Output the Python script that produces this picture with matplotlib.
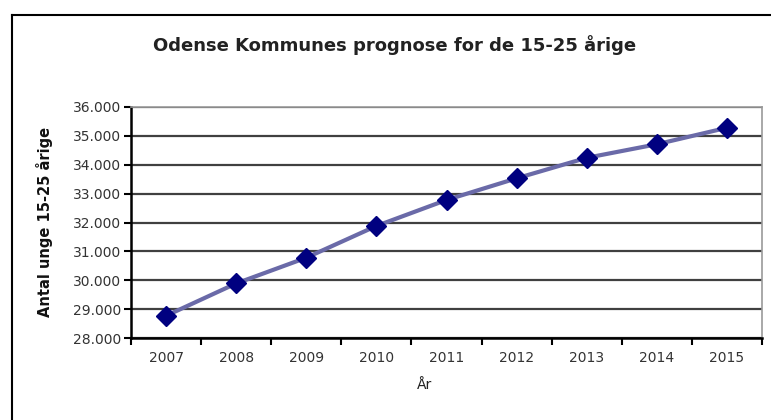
import matplotlib.pyplot as plt
from matplotlib.lines import Line2D
from matplotlib.ticker import FuncFormatter

years = ['2007', '2008', '2009', '2010', '2011', '2012', '2013', '2014', '2015']
antal = [28770, 29890, 30780, 31880, 32780, 33530, 34240, 34710, 35280]
y_ticks = [28000, 29000, 30000, 31000, 32000, 33000, 34000, 35000, 36000]

fig = plt.figure(figsize=(7.71, 4.2), dpi=100)
ax = fig.add_axes([131 / 771, 82 / 420, 631 / 771, 231 / 420])

x = list(range(len(years)))
ax.plot(x, antal, color='#6a6aa8', linewidth=3, zorder=3)
ax.plot(x, antal, linestyle='none', marker='D', markersize=10,
        color='#000080', zorder=4)

ax.set_xlim(-0.5, len(years) - 0.5)
ax.set_ylim(28000, 36000)
ax.set_yticks(y_ticks)
ax.yaxis.set_major_formatter(FuncFormatter(lambda v, p: f'{int(v):,}'.replace(',', '.')))
ax.set_xticks(x)
ax.set_xticklabels(years)
ax.set_xticks([i + 0.5 for i in range(-1, len(years))], minor=True)
ax.tick_params(axis='x', which='major', length=0, pad=9, labelsize=10, colors='#333333')
ax.tick_params(axis='x', which='minor', length=5, width=1.5, direction='out', color='black')
ax.tick_params(axis='y', length=5, width=1.5, direction='out', labelsize=10, colors='black',
               labelcolor='#333333', pad=2)

ax.grid(axis='y', color='black', linewidth=1.6, alpha=0.75)
ax.set_axisbelow(True)
for side in ['top', 'right']:
    ax.spines[side].set_color('#999999')
    ax.spines[side].set_linewidth(1.2)
ax.spines['left'].set_linewidth(1.8)
ax.spines['bottom'].set_linewidth(1.8)

fig.text(395 / 771, 1 - 45 / 420, 'Odense Kommunes prognose for de 15-25 årige',
         ha='center', va='center', fontsize=13, fontweight='bold', color='#222222')
fig.text(45 / 771, 1 - 222 / 420, 'Antal unge 15-25 årige', rotation=90,
         ha='center', va='center', fontsize=10.5, fontweight='bold', color='#111111')
fig.text(425 / 771, 1 - 385 / 420, 'År', ha='center', va='center',
         fontsize=10, color='#222222')

# chart frame (left and top edges only are visible)
fig.add_artist(Line2D([12 / 771, 12 / 771], [0, 1 - 15 / 420], color='black', linewidth=1.5))
fig.add_artist(Line2D([12 / 771, 1], [1 - 15 / 420, 1 - 15 / 420], color='black', linewidth=1.5))

fig.savefig('out.png', dpi=100)
